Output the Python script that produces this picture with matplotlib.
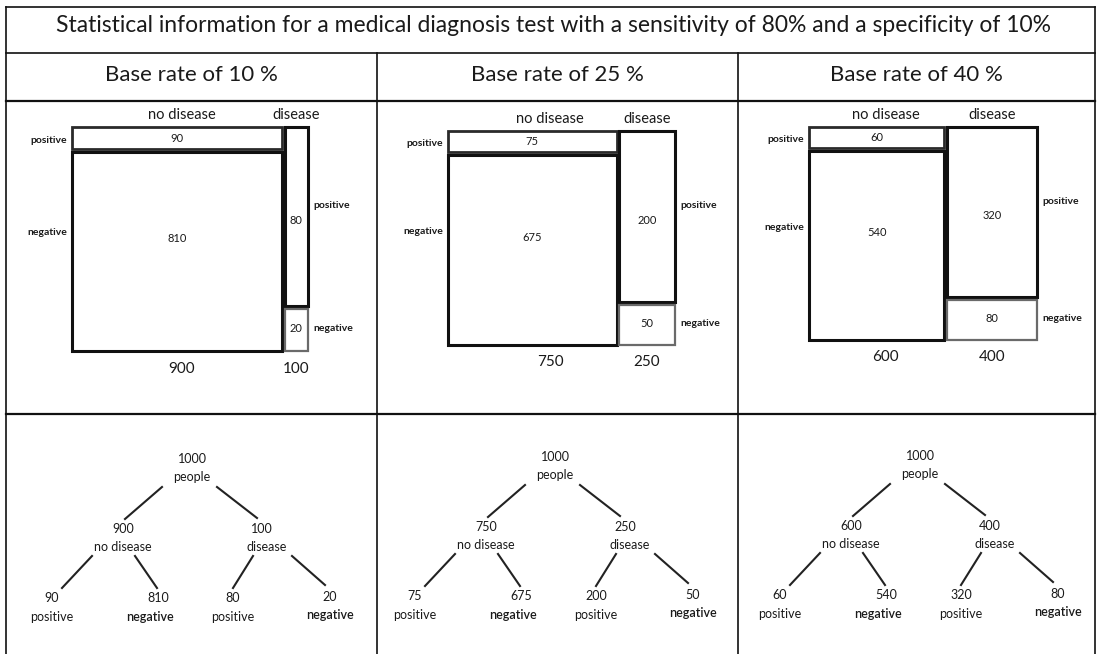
import numpy as np
import matplotlib
matplotlib.use('Agg')
import matplotlib.pyplot as plt
from matplotlib.patches import Rectangle

plt.rcParams['font.family'] = ['Lato', 'DejaVu Sans']

# ---- data ----
base_rates = [10, 25, 40]
no_disease = [900, 750, 600]
disease = [100, 250, 400]
false_pos = [90, 75, 60]    # no disease, positive
true_neg = [810, 675, 540]  # no disease, negative
true_pos = [80, 200, 320]   # disease, positive
false_neg = [20, 50, 80]    # disease, negative
total = 1000

title = 'Statistical information for a medical diagnosis test with a sensitivity of 80% and a specificity of 10%'

W, H = 1097, 654
fig = plt.figure(figsize=(W / 100, H / 100), dpi=100)
bg = fig.add_axes([0, 0, 1, 1])
bg.set_xlim(0, W)
bg.set_ylim(H, 0)
bg.axis('off')

txt = '#1a1a1a'

# ---- table grid ----
col_x = [6, 377, 738, 1095]
for y in [7, 53, 101, 414]:
    bg.plot([col_x[0], col_x[-1]], [y, y], color='#111', lw=1.6 if y in (101, 414) else 1.2)
bg.plot([col_x[0], col_x[0]], [7, H], color='#111', lw=1.2)
bg.plot([col_x[-1], col_x[-1]], [7, H], color='#111', lw=1.2)
for x in col_x[1:-1]:
    bg.plot([x, x], [53, H], color='#111', lw=1.2)

bg.text(W / 2 + 5, 26, title, ha='center', va='center', fontsize=16.5, color=txt)
for i, br in enumerate(base_rates):
    cx = (col_x[i] + col_x[i + 1]) / 2
    bg.text(cx, 75, 'Base rate of %d %%' % br, ha='center', va='center', fontsize=16, color=txt)

# ---- mosaic plots ----
boxes = [(72, 127, 308, 351), (448, 131, 675, 345), (809, 127, 1037, 340)]
nd_label_shift = [0.02, 0.08, 0.04]
gap_x = 10
gap_y = 0.012
for i, (x0, y0, x1, y1) in enumerate(boxes):
    ax = fig.add_axes([x0 / W, 1 - y1 / H, (x1 - x0) / W, (y1 - y0) / H])
    ax.set_xlim(0, total + gap_x)
    ax.set_ylim(1, 0)
    ax.axis('off')
    nd, d = no_disease[i], disease[i]
    fp_h = false_pos[i] / nd
    tp_h = true_pos[i] / d
    dx0 = nd + gap_x
    ax.add_patch(Rectangle((0, 0), nd, fp_h, fill=False, ec='#2a2a2a', lw=2.0, clip_on=False))
    ax.add_patch(Rectangle((0, fp_h + gap_y), nd, 1 - fp_h - gap_y, fill=False, ec='#111', lw=2.2, clip_on=False))
    ax.add_patch(Rectangle((dx0, 0), d, tp_h, fill=False, ec='#111', lw=2.2, clip_on=False))
    ax.add_patch(Rectangle((dx0, tp_h + gap_y), d, 1 - tp_h - gap_y, fill=False, ec='#6a6a6a', lw=1.6, clip_on=False))
    # cell counts
    ax.text(nd / 2, fp_h / 2, str(false_pos[i]), ha='center', va='center', fontsize=8, color=txt)
    ax.text(nd / 2, fp_h + (1 - fp_h) * 0.44, str(true_neg[i]), ha='center', va='center', fontsize=8, color=txt)
    ax.text(dx0 + d / 2, tp_h * 0.52, str(true_pos[i]), ha='center', va='center', fontsize=8, color=txt)
    ax.text(dx0 + d / 2, tp_h + (1 - tp_h) / 2, str(false_neg[i]), ha='center', va='center', fontsize=8, color=txt)
    # column headers and totals
    ndx = nd / 2 + nd_label_shift[i] * total
    ax.text(ndx, -0.055, 'no disease', ha='center', va='center', fontsize=10.5, color=txt)
    ax.text(dx0 + d / 2, -0.055, 'disease', ha='center', va='center', fontsize=10.5, color=txt)
    ax.text(ndx, 1.08, str(nd), ha='center', va='center', fontsize=11, color=txt)
    ax.text(dx0 + d / 2, 1.08, str(d), ha='center', va='center', fontsize=11, color=txt)
    # row labels
    ax.text(-0.022 * total, 0.06, 'positive', ha='right', va='center', fontsize=7.5, color=txt, fontweight='bold')
    ax.text(-0.022 * total, 0.47, 'negative', ha='right', va='center', fontsize=7.5, color=txt, fontweight='bold')
    ax.text(total + gap_x + 0.025 * total, 0.35, 'positive', ha='left', va='center', fontsize=7.5, color=txt, fontweight='bold')
    ax.text(total + gap_x + 0.025 * total, 0.9, 'negative', ha='left', va='center', fontsize=7.5, color=txt, fontweight='bold')

# ---- tree diagrams ----
tree_dx = [0, 363, 728]
tree_dy = [0, -2, -3]
# node text positions (panel 1 layout): (x, y of number, x, y of label)
nodes = {
    'root': (192, 459, 192, 477),
    'L': (123, 529, 123, 547),
    'R': (262, 529, 267, 547),
    'LL': (52, 598, 52, 617),
    'LR': (158, 598, 150, 617),
    'RL': (233, 598, 233, 617),
    'RR': (330, 597, 330, 615),
}
edges = [((162, 487), (125, 519)), ((217, 487), (257, 518)),
         ((92, 556), (62, 588)), ((135, 556), (157, 588)),
         ((253, 556), (233, 588)), ((292, 556), (325, 585))]
for i in range(3):
    vals = {
        'root': (total, 'people'),
        'L': (no_disease[i], 'no disease'),
        'R': (disease[i], 'disease'),
        'LL': (false_pos[i], 'positive'),
        'LR': (true_neg[i], 'negative'),
        'RL': (true_pos[i], 'positive'),
        'RR': (false_neg[i], 'negative'),
    }
    dx, dy = tree_dx[i], tree_dy[i]
    for key, (nx, ny, lx, ly) in nodes.items():
        num, lab = vals[key]
        bold = key in ('LR', 'RR')
        bg.text(nx + dx, ny + dy, str(num), ha='center', va='center', fontsize=9, color=txt)
        bg.text(lx + dx, ly + dy, lab, ha='center', va='center', fontsize=9, color=txt,
                fontweight='semibold' if bold else 'normal')
    for (ax0, ay0), (ax1, ay1) in edges:
        bg.plot([ax0 + dx, ax1 + dx], [ay0 + dy, ay1 + dy], color='#222', lw=1.5)

fig.savefig('out.png', dpi=100)
